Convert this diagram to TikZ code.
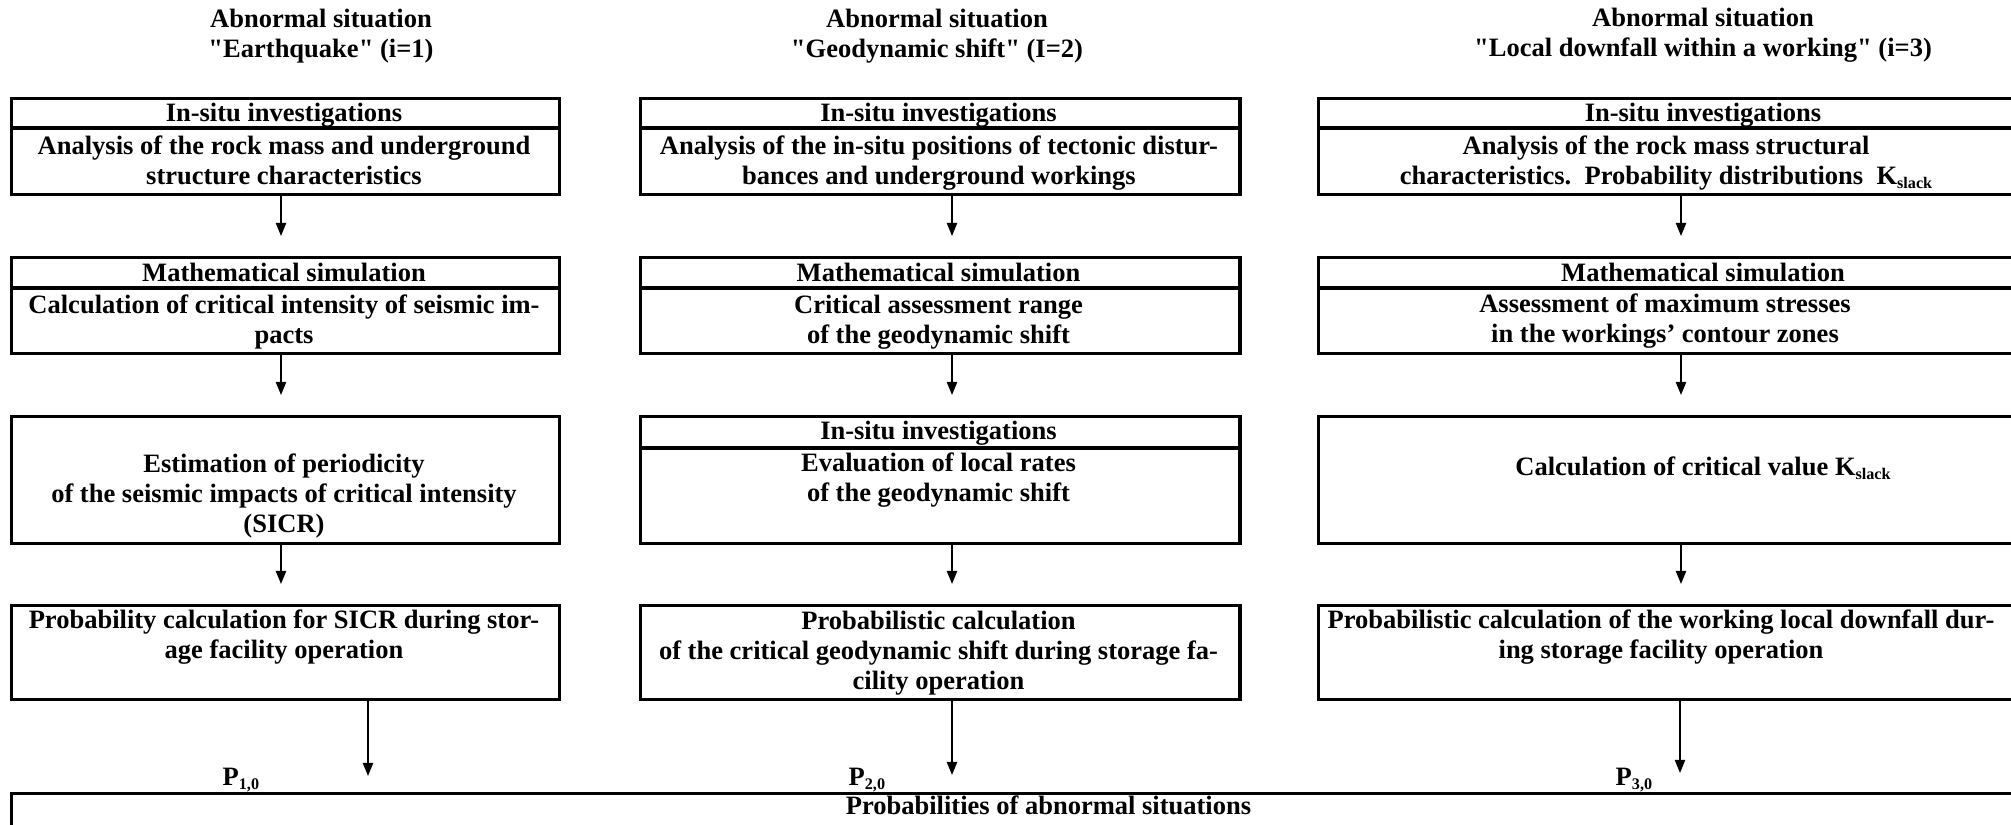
\documentclass[tikz,border=0pt]{standalone}
\usepackage{fontspec}
\setmainfont{Liberation Serif}
\usetikzlibrary{arrows.meta}
\newcommand{\lowsub}[1]{\raisebox{-1.1pt}{\fontsize{4.6pt}{4.6pt}\selectfont#1}}
\newcommand{\qt}{\textquotedbl}

\begin{document}
\begin{tikzpicture}[x=.01cm,y=-.01cm,>={Triangle[length=3.7pt,width=2.9pt]},
    font=\fontsize{7.54pt}{8.54pt}\selectfont\bfseries,
    box/.style={draw,line width=.9pt,anchor=north west,inner sep=0},
    txt/.style={anchor=base,align=center,inner sep=0},
    lbl/.style={anchor=base west,inner sep=0},
    flow/.style={->,line width=.5pt,shorten >=.2cm},
    rule/.style={line width=.9pt}]
    \useasboundingbox(0,0)rectangle(2011,825);
    \clip(0,0)rectangle(2011,825);
    % arrow columns
    \coordinate(aE)at(281,0);
    \coordinate(aG)at(952,0);
    \coordinate(aL)at(1681,0);
    \coordinate(pE)at(368,0);
    \coordinate(pG)at(952,0);
    \coordinate(pL)at(1680,0);
    % titles (base = last line)
    \node[txt](T1)at(321,58){Abnormal situation\\\qt Earthquake\qt{} (i=1)};
    \node[txt](T2)at(937,58){Abnormal situation\\\qt Geodynamic shift\qt{} (I=2)};
    \node[txt](T3)at(1703,57){Abnormal situation\\\qt Local downfall within a working\qt{} (i=3)};
    % earthquake
    \node[box,minimum width=5.485cm,minimum height=.96cm](E1)at(9.5,97){};
    \draw[rule]([yshift=-.31cm]E1.north west)--([yshift=-.31cm]E1.north east);
    \node[txt](E1h)at(284,122){In-situ investigations};
    \node[txt](E1t)at(284,185){Analysis of the rock mass and underground\\structure characteristics};
    \node[box,minimum width=5.485cm,minimum height=.96cm](E2)at(9.5,256){};
    \draw[rule]([yshift=-.32cm]E2.north west)--([yshift=-.32cm]E2.north east);
    \node[txt](E2h)at(284,282){Mathematical simulation};
    \node[txt](E2t)at(284,344){Calculation of critical intensity of seismic im-\\pacts};
    \node[box,minimum width=5.485cm,minimum height=1.27cm](E3)at(9.5,415){};
    \node[txt](E3t)at(284,533){Estimation of periodicity\\of the seismic impacts of critical intensity\\(SICR)};
    \node[box,minimum width=5.485cm,minimum height=.94cm](E4)at(9.5,604){};
    \node[txt](E4t)at(284,659){Probability calculation for SICR during stor-\\age facility operation};
    % geodynamic shift
    \node[box,minimum width=5.99cm,minimum height=.96cm](G1)at(639,97){};
    \draw[rule]([yshift=-.31cm]G1.north west)--([yshift=-.31cm]G1.north east);
    \node[txt](G1h)at(938.5,122){In-situ investigations};
    \node[txt](G1t)at(939,185){Analysis of the in-situ positions of tectonic distur-\\bances and underground workings};
    \node[box,minimum width=5.99cm,minimum height=.96cm](G2)at(639,256){};
    \draw[rule]([yshift=-.32cm]G2.north west)--([yshift=-.32cm]G2.north east);
    \node[txt](G2h)at(938.5,282){Mathematical simulation};
    \node[txt](G2t)at(938.5,344){Critical assessment range\\of the geodynamic shift};
    \node[box,minimum width=5.99cm,minimum height=1.27cm](G3)at(639,415){};
    \draw[rule]([yshift=-.33cm]G3.north west)--([yshift=-.33cm]G3.north east);
    \node[txt](G3h)at(938.5,440){In-situ investigations};
    \node[txt](G3t)at(938.5,502){Evaluation of local rates\\of the geodynamic shift};
    \node[box,minimum width=5.99cm,minimum height=.94cm](G4)at(639,604){};
    \node[txt](G4t)at(938.5,690){Probabilistic calculation\\of the critical geodynamic shift during storage fa-\\cility operation};
    % local downfall
    \node[box,minimum width=7.72cm,minimum height=.96cm](L1)at(1317,97){};
    \draw[rule]([yshift=-.31cm]L1.north west)--([yshift=-.31cm]L1.north east);
    \node[txt](L1h)at(1703,122){In-situ investigations};
    \node[txt](L1t)at(1666,185){Analysis of the rock mass structural\\characteristics.\ \ Probability distributions\ \ K\lowsub{slack}};
    \node[box,minimum width=7.72cm,minimum height=.96cm](L2)at(1317,256){};
    \draw[rule]([yshift=-.32cm]L2.north west)--([yshift=-.32cm]L2.north east);
    \node[txt](L2h)at(1703,282){Mathematical simulation};
    \node[txt](L2t)at(1665,343){Assessment of maximum stresses\\in the workings’ contour zones};
    \node[box,minimum width=7.72cm,minimum height=1.27cm](L3)at(1317,415){};
    \node[txt](L3t)at(1703,476){Calculation of critical value K\lowsub{slack}};
    \node[box,minimum width=7.72cm,minimum height=.94cm](L4)at(1317,604){};
    \node[txt](L4t)at(1661,659){Probabilistic calculation of the working local downfall dur-\\ing storage facility operation};
    % probabilities
    \node[box,minimum width=21cm,minimum height=1cm](PR)at(9.5,792){};
    \node[txt](PRt)at(1048.5,815){Probabilities of abnormal situations};
    \node[lbl](P1)at(222,786){P\lowsub{1,0}};
    \node[lbl](P2)at(848,786){P\lowsub{2,0}};
    \node[lbl](P3)at(1615,786){P\lowsub{3,0}};
    % arrows
    \draw[flow](E1.south-|aE)--(E2.north-|aE);
    \draw[flow](E2.south-|aE)--(E3.north-|aE);
    \draw[flow](E3.south-|aE)--(E4.north-|aE);
    \draw[flow,shorten >=.16cm](E4.south-|pE)--(PR.north-|pE);
    \draw[flow](G1.south-|aG)--(G2.north-|aG);
    \draw[flow](G2.south-|aG)--(G3.north-|aG);
    \draw[flow](G3.south-|aG)--(G4.north-|aG);
    \draw[flow,shorten >=.17cm](G4.south-|pG)--(PR.north-|pG);
    \draw[flow](L1.south-|aL)--(L2.north-|aL);
    \draw[flow](L2.south-|aL)--(L3.north-|aL);
    \draw[flow](L3.south-|aL)--(L4.north-|aL);
    \draw[flow,shorten >=.19cm](L4.south-|pL)--(PR.north-|pL);
\end{tikzpicture}
\end{document}
